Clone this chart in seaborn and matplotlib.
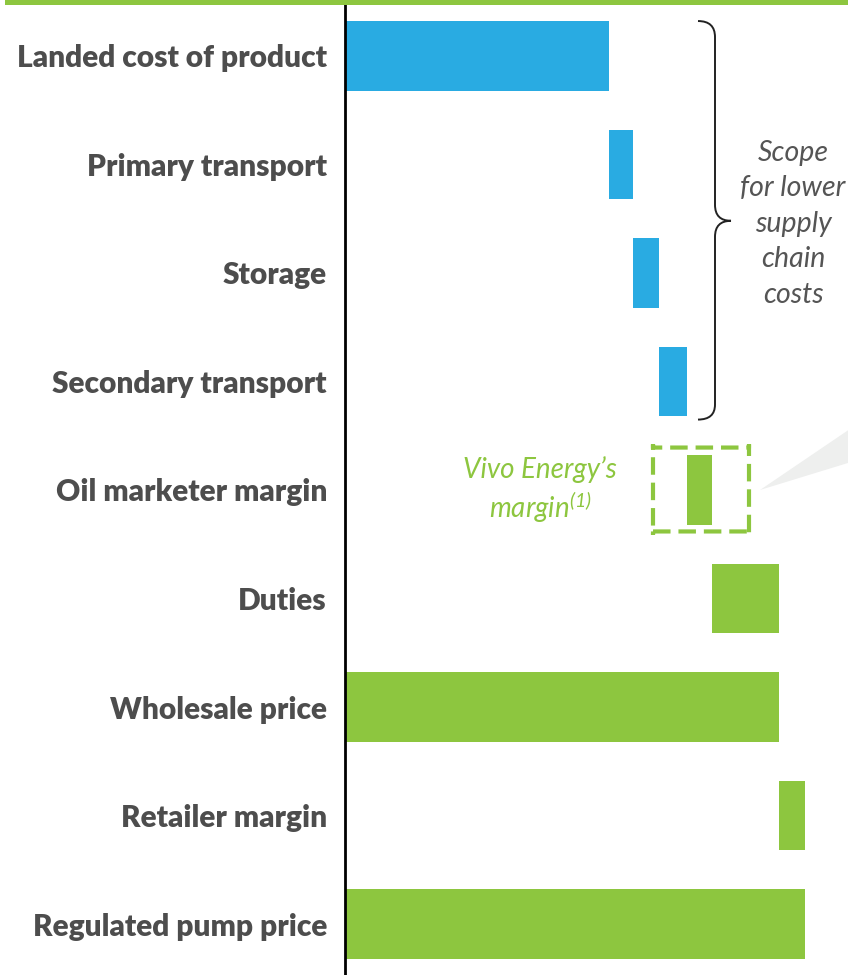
import numpy as np
import pandas as pd
import seaborn as sns
import matplotlib.pyplot as plt
from matplotlib.path import Path
from matplotlib.patches import PathPatch, FancyBboxPatch, Polygon, Rectangle

# Waterfall data (relative units)
categories = ['Landed cost of product', 'Primary transport', 'Storage',
              'Secondary transport', 'Oil marketer margin', 'Duties',
              'Wholesale price', 'Retailer margin', 'Regulated pump price']
values = [264, 24, 26, 28, 25, 67, 434, 26, 460]
is_total = [False, False, False, False, False, False, True, False, True]
groups = ['supply', 'supply', 'supply', 'supply', 'price', 'price', 'price', 'price', 'price']

BLUE = '#29abe2'
GREEN = '#8dc63f'
TXT = '#4d4d4d'

# start of each bar: running total, totals start at zero
starts = []
running = 0
for v, tot in zip(values, is_total):
    if tot:
        starts.append(0)
        running = v
    else:
        starts.append(running)
        running += v

df = pd.DataFrame({'category': categories, 'value': values,
                   'start': starts, 'group': groups})

sns.set_theme(style='white')
plt.rcParams['font.family'] = ['Lato', 'DejaVu Sans']
plt.rcParams['mathtext.fontset'] = 'custom'
plt.rcParams['mathtext.rm'] = 'Lato:italic'
plt.rcParams['mathtext.it'] = 'Lato:italic'

W, H = 848, 975
fig = plt.figure(figsize=(W / 100, H / 100), dpi=100)
ax = fig.add_axes([345 / W, 0, (W - 345) / W, 970 / H])

for grp, col in [('supply', BLUE), ('price', GREEN)]:
    sub = df[df['group'] == grp]
    sns.barplot(data=sub, x='value', y='category', order=categories,
                left=sub['start'].to_numpy(), color=col, width=0.645,
                orient='h', ax=ax, linewidth=0, saturation=1)

ax.set_xlim(0, W - 345)
ax.set_ylim(8.47, -0.47)
ax.set_xlabel('')
ax.set_ylabel('')
ax.set_xticks([])
for s in ['top', 'right', 'bottom']:
    ax.spines[s].set_visible(False)
ax.spines['left'].set_color('black')
ax.spines['left'].set_linewidth(2)
ax.tick_params(axis='y', length=0, pad=13)
for lab in ax.get_yticklabels():
    lab.set_fontsize(21.5)
    lab.set_fontweight('heavy')
    lab.set_color(TXT)

# green band at top of the figure
fig.patches.append(Rectangle((5 / W, 970 / H), 1, 5 / H, transform=fig.transFigure,
                             color=GREEN, lw=0))

# helpers: pixel -> data coordinates for annotations
def px(x):
    return x - 345

def row(y):
    return (y - 55) / 108.625

# curly brace around supply chain steps
verts = [(px(698), row(20)), (px(715), row(20)), (px(715), row(36)),
         (px(715), row(204)),
         (px(715), row(220)), (px(731), row(220)),
         (px(715), row(220)), (px(715), row(236)),
         (px(715), row(404)),
         (px(715), row(419)), (px(698), row(419))]
codes = [Path.MOVETO, Path.CURVE3, Path.CURVE3, Path.LINETO,
         Path.CURVE3, Path.CURVE3, Path.CURVE3, Path.CURVE3,
         Path.LINETO, Path.CURVE3, Path.CURVE3]
ax.add_patch(PathPatch(Path(verts, codes), fill=False, lw=1.4, ec='#222222', clip_on=False))

ax.text(px(793), row(223), 'Scope\nfor lower\nsupply\nchain\ncosts', ha='center', va='center',
        fontsize=20.5, style='italic', color='#555555', linespacing=1.45)

# dashed box around the oil marketer margin
ax.add_patch(FancyBboxPatch((px(653), row(531)), px(749) - px(653), row(447) - row(531),
                            boxstyle='round,pad=0,rounding_size=0.03', fill=False,
                            ec=GREEN, lw=3, linestyle=(0, (4.2, 1.9)),
                            mutation_aspect=1, clip_on=False))
ax.text(px(540), row(490), "Vivo Energy\u2019s\nmargin$^{(1)}$", ha='center', va='center',
        fontsize=20, style='italic', color=GREEN, linespacing=1.2)

# grey callout wedge
fig.patches.append(Polygon([(760 / W, 1 - 490 / H), (900 / W, 1 - 395 / H), (900 / W, 1 - 447 / H)],
                           closed=True, transform=fig.transFigure, color='#eeefee', lw=0))

fig.savefig('out.png', dpi=100)
